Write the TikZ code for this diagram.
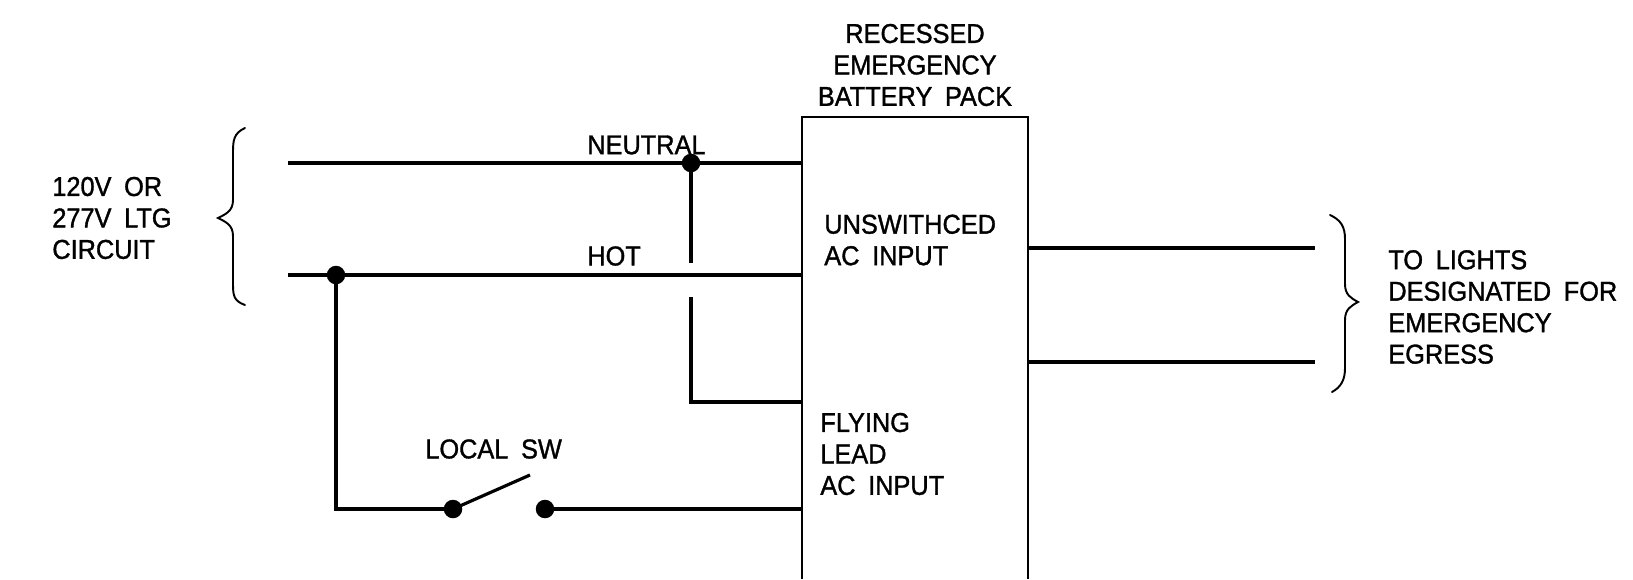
\documentclass[tikz,border=0pt]{standalone}
\usepackage{fontspec}
\setmainfont{Liberation Sans}[FakeStretch=0.93,WordSpace=1.8,FakeBold=1.2]
\usetikzlibrary{positioning}

\begin{document}
\begin{tikzpicture}[x=0.02cm,y=-0.02cm,
    wire/.style={line width=1.8pt},
    dot/.style={circle,fill,inner sep=0pt,minimum size=0.37cm},
    lbl/.style={inner sep=0pt,align=left,font=\fontsize{15.5}{17.9}\selectfont},
    brace/.style={line width=1.1pt,line cap=round}]

          \useasboundingbox (0,0) rectangle (1633,579);

          % battery pack box
          \draw[line width=0.8pt] (802,579) |- (1028,117) -- (1028,579);
          \node[lbl,align=center] (title) at (915,65) {RECESSED\\EMERGENCY\\BATTERY PACK};
          \node[lbl,anchor=west] (unsw) at (824,240) {UNSWITHCED\\AC INPUT};
          \node[lbl,anchor=west] (fly) at (820,454) {FLYING\\LEAD\\AC INPUT};

          % feed side
          \coordinate (nin) at (288,163);
          \coordinate (hin) at (288,275);
          \coordinate (nbox) at (802,163);
          \coordinate (hbox) at (802,275);
          \coordinate (fbox) at (802,402);
          \coordinate (sbox) at (802,509);
          \coordinate (gtop) at (691,263);
          \coordinate (gbot) at (691,297);
          \coordinate (blade) at (530,475);

          \node[dot] (nd) at (691,163) {};
          \node[dot] (hd) at (336,275) {};
          \node[dot] (s1) at (453,509) {};
          \node[dot] (s2) at (545,509) {};

          \draw[wire] (nin) -- (nbox);
          \draw[wire] (hin) -- (hbox);
          \draw[wire] (nd.center) -- (gtop);
          \draw[wire] (gbot) |- (fbox);
          \draw[wire] (hd.center) |- (s1.center);
          \draw[wire] (s1.center) -- (blade);
          \draw[wire] (s2.center) -- (sbox);

          \node[lbl,anchor=west] (neutral) at (587,145) {NEUTRAL};
          \node[lbl,anchor=west] (hot) at (587,256) {HOT};
          \node[lbl,anchor=west] (sw) at (425,449) {LOCAL SW};

          % left brace and label
          \draw[brace] (245,128) .. controls (234,133) and (233,140) .. (233,152)
            -- (233,200) .. controls (233,211) and (226,214) .. (218,218)
            .. controls (226,222) and (233,225) .. (233,236)
            -- (233,284) .. controls (233,296) and (234,301) .. (245,305);
          \node[lbl,anchor=west] (ckt) at (52,218) {120V OR\\277V LTG\\CIRCUIT};

          % load side
          \coordinate (o1) at (1028,248);
          \coordinate (o2) at (1028,362);
          \coordinate (e1) at (1315,248);
          \coordinate (e2) at (1315,362);
          \draw[wire] (o1) -- (e1);
          \draw[wire] (o2) -- (e2);

          \draw[brace] (1330,215) .. controls (1341,220) and (1345,227) .. (1345,239)
            -- (1345,284) .. controls (1345,295) and (1351,298) .. (1358,302)
            .. controls (1351,306) and (1345,309) .. (1345,320)
            -- (1345,368) .. controls (1345,380) and (1341,387) .. (1332,392);
          \node[lbl,anchor=west] (load) at (1388,307) {TO LIGHTS\\DESIGNATED FOR\\EMERGENCY\\EGRESS};
        \end{tikzpicture}
\end{document}
